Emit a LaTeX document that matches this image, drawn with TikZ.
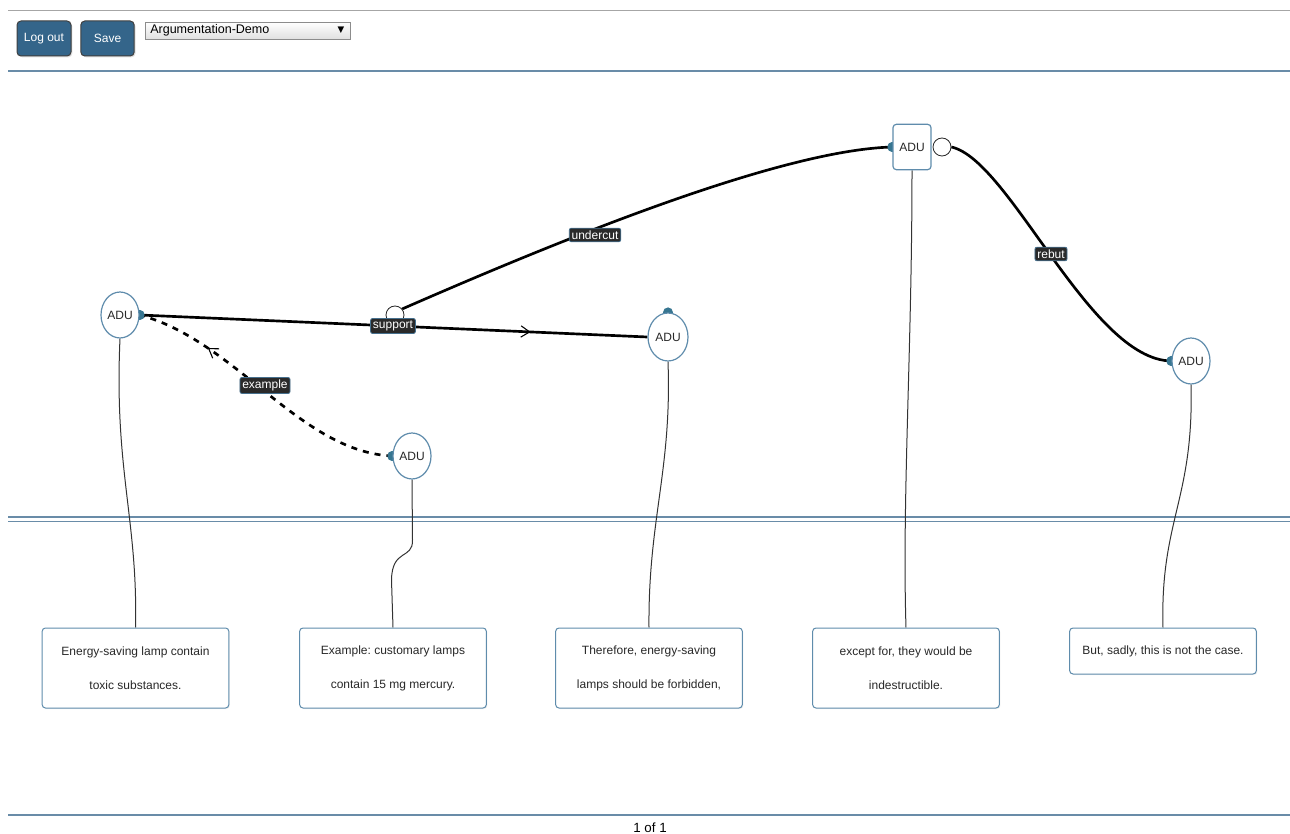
\documentclass[tikz,border=0pt]{standalone}
\usepackage{fontspec}
\setmainfont{Liberation Sans}
\newfontfamily\dejavu{DejaVu Sans}
\usetikzlibrary{shapes.geometric,arrows.meta,decorations.markings,shadows,backgrounds}
\definecolor{btn}{RGB}{52,101,138}
\definecolor{adub}{RGB}{95,140,172}
\definecolor{portc}{RGB}{55,118,145}
\definecolor{lblfill}{RGB}{42,42,42}
\definecolor{lbldraw}{RGB}{70,112,142}
\definecolor{sepc}{RGB}{105,140,168}
\definecolor{txt}{RGB}{40,40,40}
\frenchspacing
\begin{document}
\begin{tikzpicture}[x=0.75pt,y=-0.75pt,
  adu/.style={ellipse,draw=adub,line width=0.9pt,fill=white,minimum width=28.5pt,minimum height=34.5pt,inner sep=0pt,font=\fontsize{9}{11}\selectfont,text=txt},
  adurect/.style={rectangle,rounded corners=2.5pt,draw=adub,line width=0.9pt,fill=white,minimum width=28.5pt,minimum height=34pt,inner sep=0pt,font=\fontsize{9}{11}\selectfont,text=txt},
  port/.style={circle,fill=portc,inner sep=0pt,minimum size=7.5pt},
  ring/.style={circle,draw=black!85,line width=0.6pt,inner sep=0pt,minimum size=13.5pt},
  lbl/.style={fill=lblfill,draw=lbldraw,line width=0.6pt,rounded corners=1.5pt,text=white,font=\fontsize{9}{10}\selectfont,inner sep=1.8pt},
  edge/.style={line width=2pt,draw=black},
  link/.style={line width=0.75pt,draw=black!80},
  tbox/.style={rectangle,draw=adub,line width=0.75pt,rounded corners=2.5pt,fill=white,minimum width=140pt,align=center,font=\fontsize{9}{25.5}\selectfont,text=txt,drop shadow={opacity=0.12,shadow xshift=0.8pt,shadow yshift=-0.8pt}},
  btnbox/.style={rectangle,rounded corners=3pt,fill=btn,draw=black!75,line width=0.75pt,text=white,font=\fontsize{9}{11}\selectfont,minimum height=26.25pt,inner sep=0pt,drop shadow={opacity=0.25,shadow xshift=1pt,shadow yshift=-1pt}},
  sep/.style={draw=sepc,line width=0.8pt},
  midarrow/.style={decoration={markings,mark=at position #1 with {\arrow{Straight Barb[length=6.5pt,width=8.5pt,line width=0.8pt]}}},postaction={decorate}}
]
\useasboundingbox (0,0) rectangle (1290,834);

% header
\coordinate (t0) at (8,11); \coordinate (t1) at (1290,11);
\draw[draw=black!35,line width=0.75pt] (t0) -- (t1);
\node[btnbox,minimum width=40.5pt] (logout) at (44,38.5) {Log out};
\node[btnbox,minimum width=40pt] (save) at (107.5,38.5) {Save};
\node[rectangle,draw=black!45,line width=0.6pt,top color=white,bottom color=black!12,minimum width=153.75pt,minimum height=12.75pt,inner sep=0pt] (menu) at (247.5,30.5) {};
\node[anchor=west,inner sep=0pt,font=\fontsize{9.4}{11}\selectfont,text=black] (menutext) at (150,30.5) {Argumentation-Demo};
\node[inner sep=0pt,font=\dejavu\fontsize{6.5}{7}\selectfont] (menuarrow) at (341,30.5) {▼};

\coordinate (h0) at (8,71); \coordinate (h1) at (1290,71);
\coordinate (s0) at (8,517); \coordinate (s1) at (1290,517);
\coordinate (s2) at (8,521.5); \coordinate (s3) at (1290,521.5);
\coordinate (f0) at (8,815); \coordinate (f1) at (1290,815);
\node[font=\fontsize{10}{12}\selectfont,text=black] (pager) at (650,828) {1 of 1};

% ADU nodes
\node[adu] (A1) at (120,315) {ADU};
\node[adu,minimum width=30pt,minimum height=36pt] (A2) at (668,337) {ADU};
\node[adu] (A3) at (412,456) {ADU};
\node[adurect] (A4) at (912,147) {ADU};
\node[adu] (A5) at (1191,361) {ADU};

% text boxes
\node[tbox,minimum height=60pt] (B1) at (135.5,668) {Energy-saving lamp contain\\toxic substances.};
\node[tbox,minimum height=60pt] (B2) at (393,668) {Example: customary lamps\\contain 15 mg mercury.};
\node[tbox,minimum height=60pt] (B3) at (649,668) {Therefore, energy-saving\\lamps should be forbidden,};
\node[tbox,minimum height=60pt] (B4) at (906,668) {except for, they would be\\indestructible.};
\node[tbox,minimum height=34.5pt,font=\fontsize{9}{11}\selectfont] (B5) at (1163,651) {But, sadly, this is not the case.};

\node[ring,fill=white] (rc) at (942,147) {};
\node[ring] (uc) at (395,315) {};

\begin{pgfonlayer}{background}
\draw[sep] (h0) -- (h1);
\draw[sep] (s0) -- (s1);
\draw[sep] (s2) -- (s3);
\draw[sep] (f0) -- (f1);
% links ADU -> text
\draw[link] (A1.south) .. controls (114,470) and (138,520) .. (B1.north);
\draw[link] (A3.south) -- (412.5,540) .. controls (413,560) and (392,548) .. (391.5,580) -- (B2.north);
\draw[link] (A2.south) .. controls (672,470) and (648,520) .. (B3.north);
\draw[link] (A4.south) .. controls (912,350) and (902,500) .. (B4.north);
\draw[link] (A5.south) .. controls (1194,500) and (1160,520) .. (B5.north);
% ports
\node[port] (p1) at (A1.east) {};
\node[port] (p2) at (A2.north) {};
\node[port] (p3) at (A3.west) {};
\node[port] (p4) at (A4.west) {};
\node[port] (p5) at (A5.west) {};
% edges
\draw[edge,midarrow=0.77] (p1.center) -- (A2.west);
\draw[edge,dash pattern=on 4.5pt off 4.5pt,midarrow=0.74] (p3.center) .. controls (300,452) and (235,340) .. (p1.center);
\draw[edge] (uc.40) .. controls (560,240) and (780,150) .. (p4.center);
\draw[edge] (rc.east) .. controls (1010,160) and (1090,360) .. (p5.center);
\node[port] at (p4) {};
\node[port] at (p5) {};
\node[port] at (p1) {};
\node[port] at (p3) {};
\end{pgfonlayer}

% labels
\node[lbl] (Lsupport) at (393,326) {support};
\node[lbl] (Lexample) at (265,385.5) {example};
\node[lbl] (Lundercut) at (595,235) {undercut};
\node[lbl] (Lrebut) at (1051,254) {rebut};
\end{tikzpicture}
\end{document}
